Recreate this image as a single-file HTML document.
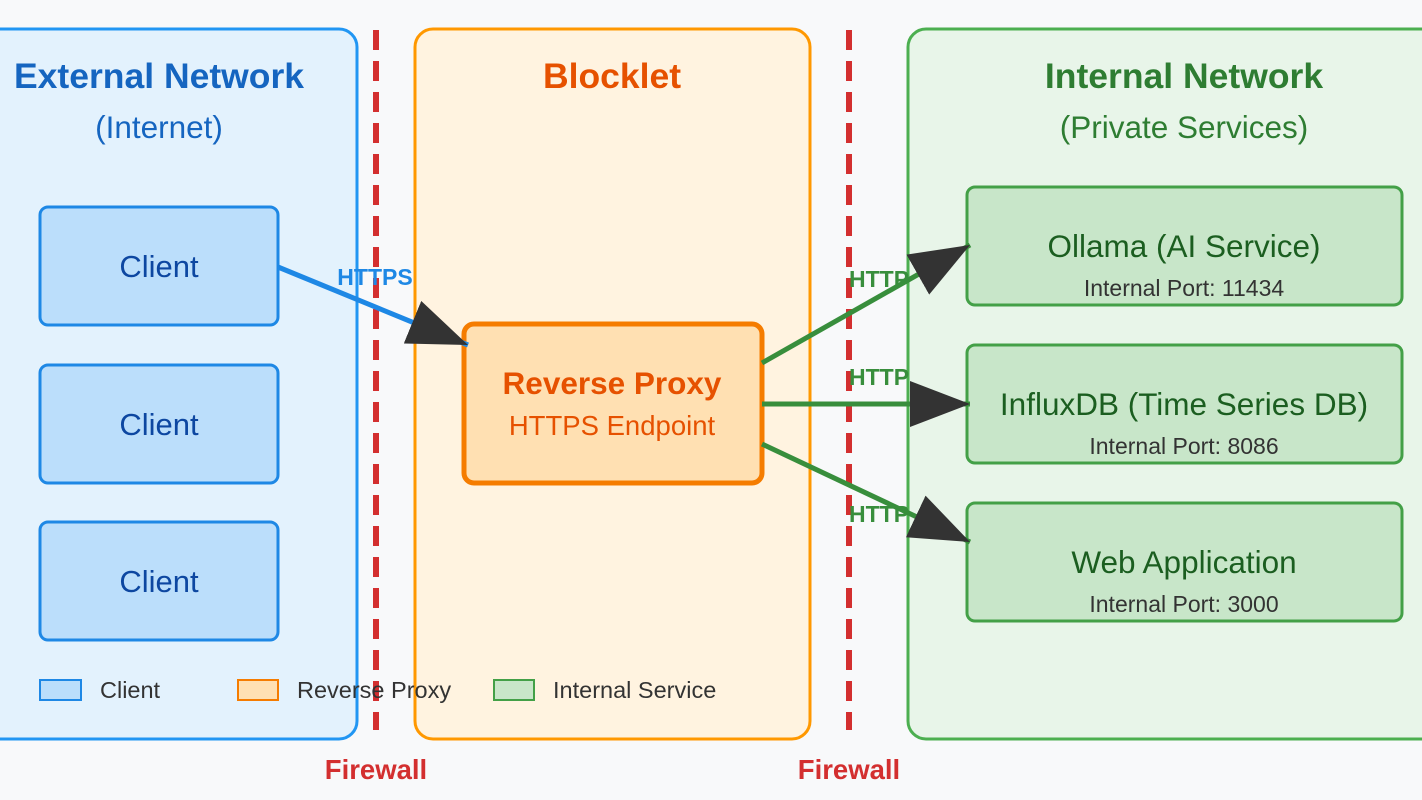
<!DOCTYPE html>
<html><head><meta charset="utf-8"><style>html,body{margin:0;padding:0;background:#f8f9fa}svg{display:block}text{font-family:"Liberation Sans",Arial,sans-serif}</style></head><body>
<svg width="1422" height="800" viewBox="0 0 1422 800" xmlns="http://www.w3.org/2000/svg">
<defs><marker id="ah" markerWidth="60" markerHeight="46" refX="10" refY="4" orient="auto" markerUnits="userSpaceOnUse" viewBox="0 0 10 8" preserveAspectRatio="none"><path d="M0,0 L10,4 L0,8 z" fill="#333"/></marker></defs>
<rect width="1422" height="800" fill="#f8f9fa"/>
<rect x="-30" y="29" width="387" height="710" rx="18" fill="#e3f2fd" stroke="#2196f3" stroke-width="3"/>
<rect x="415" y="29" width="395" height="710" rx="18" fill="#fff3e0" stroke="#ff9800" stroke-width="3"/>
<rect x="908" y="29" width="540" height="710" rx="18" fill="#e8f5e9" stroke="#4caf50" stroke-width="3"/>
<line x1="376" y1="30" x2="376" y2="730" stroke="#d32f2f" stroke-width="6" stroke-dasharray="20,11"/>
<line x1="849" y1="30" x2="849" y2="730" stroke="#d32f2f" stroke-width="6" stroke-dasharray="20,11"/>
<text x="159" y="88" text-anchor="middle" font-size="35.5" font-weight="bold" fill="#1565c0">External Network</text>
<text x="159" y="138" text-anchor="middle" font-size="31.5" fill="#1565c0">(Internet)</text>
<text x="612" y="88" text-anchor="middle" font-size="35.5" font-weight="bold" fill="#e65100">Blocklet</text>
<text x="1184" y="88" text-anchor="middle" font-size="35.5" font-weight="bold" fill="#2e7d32">Internal Network</text>
<text x="1184" y="138" text-anchor="middle" font-size="31.5" fill="#2e7d32">(Private Services)</text>
<g fill="#bbdefb" stroke="#1e88e5" stroke-width="3">
<rect x="40" y="207" width="238" height="118" rx="8"/><rect x="40" y="365" width="238" height="118" rx="8"/><rect x="40" y="522" width="238" height="118" rx="8"/></g>
<g font-size="31" fill="#0d47a1" text-anchor="middle"><text x="159" y="277">Client</text><text x="159" y="435">Client</text><text x="159" y="592">Client</text></g>
<rect x="464" y="324" width="298" height="159" rx="10" fill="#ffe0b2" stroke="#f57c00" stroke-width="5"/>
<text x="612" y="394" text-anchor="middle" font-size="31.5" font-weight="bold" fill="#e65100">Reverse Proxy</text>
<text x="612" y="435" text-anchor="middle" font-size="27.5" fill="#e65100">HTTPS Endpoint</text>
<g fill="#c8e6c9" stroke="#43a047" stroke-width="3">
<rect x="967" y="187" width="435" height="118" rx="8"/><rect x="967" y="345" width="435" height="118" rx="8"/><rect x="967" y="503" width="435" height="118" rx="8"/></g>
<g text-anchor="middle" fill="#1b5e20" font-size="31.5"><text x="1184" y="257">Ollama (AI Service)</text><text x="1184" y="415">InfluxDB (Time Series DB)</text><text x="1184" y="573">Web Application</text></g>
<g text-anchor="middle" fill="#333" font-size="23"><text x="1184" y="296">Internal Port: 11434</text><text x="1184" y="454">Internal Port: 8086</text><text x="1184" y="612">Internal Port: 3000</text></g>
<line x1="278" y1="267" x2="468" y2="345" stroke="#1e88e5" stroke-width="5" marker-end="url(#ah)"/>
<g stroke="#388e3c" stroke-width="5">
<line x1="762" y1="363" x2="970" y2="245" marker-end="url(#ah)"/>
<line x1="762" y1="404" x2="970" y2="404" marker-end="url(#ah)"/>
<line x1="762" y1="444" x2="970" y2="542" marker-end="url(#ah)"/>
</g>
<text x="375" y="285" text-anchor="middle" font-size="23" font-weight="bold" fill="#1e88e5">HTTPS</text>
<g font-size="23" font-weight="bold" fill="#388e3c"><text x="849" y="287">HTTP</text><text x="849" y="385">HTTP</text><text x="849" y="522">HTTP</text></g>
<g stroke-width="2"><rect x="40" y="680" width="41" height="20" fill="#bbdefb" stroke="#1e88e5"/><rect x="238" y="680" width="40" height="20" fill="#ffe0b2" stroke="#f57c00"/><rect x="494" y="680" width="40" height="20" fill="#c8e6c9" stroke="#43a047"/></g>
<g font-size="23.5" fill="#333"><text x="100" y="698">Client</text><text x="297" y="698">Reverse Proxy</text><text x="553" y="698">Internal Service</text></g>
<g font-size="27.5" font-weight="bold" fill="#d32f2f" text-anchor="middle"><text x="376" y="779">Firewall</text><text x="849" y="779">Firewall</text></g>
</svg>
</body></html>
